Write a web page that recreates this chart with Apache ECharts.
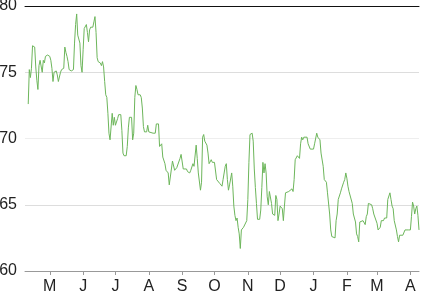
<!DOCTYPE html>
<html>
<head>
<meta charset="utf-8">
<script src="https://cdn.jsdelivr.net/npm/echarts@6/dist/echarts.min.js"></script>
<style>html,body{margin:0;padding:0;background:#fff;}#c{width:433px;height:294px;}</style>
</head>
<body>
<div id="c"></div>
<script>
const dates = [
'2013-04-11','2013-04-12','2013-04-13','2013-04-14','2013-04-15','2013-04-16','2013-04-17','2013-04-18','2013-04-19','2013-04-20',
'2013-04-21','2013-04-22','2013-04-23','2013-04-24','2013-04-25','2013-04-26','2013-04-27','2013-04-28','2013-04-29','2013-04-30',
'2013-05-01','2013-05-02','2013-05-03','2013-05-04','2013-05-05','2013-05-06','2013-05-07','2013-05-08','2013-05-09','2013-05-10',
'2013-05-11','2013-05-12','2013-05-13','2013-05-14','2013-05-15','2013-05-16','2013-05-17','2013-05-18','2013-05-19','2013-05-20',
'2013-05-21','2013-05-22','2013-05-23','2013-05-24','2013-05-25','2013-05-26','2013-05-27','2013-05-28','2013-05-29','2013-05-30',
'2013-05-31','2013-06-01','2013-06-02','2013-06-03','2013-06-04','2013-06-05','2013-06-06','2013-06-07','2013-06-08','2013-06-09',
'2013-06-10','2013-06-11','2013-06-12','2013-06-13','2013-06-14','2013-06-15','2013-06-16','2013-06-17','2013-06-18','2013-06-19',
'2013-06-20','2013-06-21','2013-06-22','2013-06-23','2013-06-24','2013-06-25','2013-06-26','2013-06-27','2013-06-28','2013-06-29',
'2013-06-30','2013-07-01','2013-07-02','2013-07-03','2013-07-04','2013-07-05','2013-07-06','2013-07-07','2013-07-08','2013-07-09',
'2013-07-10','2013-07-11','2013-07-12','2013-07-13','2013-07-14','2013-07-15','2013-07-16','2013-07-17','2013-07-18','2013-07-19',
'2013-07-20','2013-07-21','2013-07-22','2013-07-23','2013-07-24','2013-07-25','2013-07-26','2013-07-27','2013-07-28','2013-07-29',
'2013-07-30','2013-07-31','2013-08-01','2013-08-02','2013-08-05','2013-08-07','2013-08-08','2013-08-10','2013-08-11','2013-08-13',
'2013-08-14','2013-08-16','2013-08-17','2013-08-19','2013-08-20','2013-08-21','2013-08-23','2013-08-24','2013-08-25','2013-08-27',
'2013-08-28','2013-08-30','2013-08-31','2013-09-02','2013-09-03','2013-09-05','2013-09-06','2013-09-08','2013-09-09','2013-09-11',
'2013-09-12','2013-09-14','2013-09-15','2013-09-16','2013-09-18','2013-09-19','2013-09-20','2013-09-21','2013-09-22','2013-09-24',
'2013-09-25','2013-09-26','2013-09-28','2013-09-29','2013-10-01','2013-10-03','2013-10-04','2013-10-06','2013-10-08','2013-10-09',
'2013-10-11','2013-10-12','2013-10-13','2013-10-14','2013-10-15','2013-10-17','2013-10-18','2013-10-19','2013-10-20','2013-10-21',
'2013-10-22','2013-10-23','2013-10-24','2013-10-25','2013-10-26','2013-10-28','2013-10-29','2013-10-31','2013-11-01','2013-11-02',
'2013-11-03','2013-11-05','2013-11-06','2013-11-07','2013-11-08','2013-11-09','2013-11-10','2013-11-12','2013-11-13','2013-11-14',
'2013-11-15','2013-11-16','2013-11-17','2013-11-18','2013-11-19','2013-11-20','2013-11-21','2013-11-22','2013-11-23','2013-11-24',
'2013-11-26','2013-11-27','2013-11-28','2013-11-29','2013-11-30','2013-12-01','2013-12-03','2013-12-04','2013-12-05','2013-12-06',
'2013-12-07','2013-12-09','2013-12-10','2013-12-12','2013-12-13','2013-12-14','2013-12-15','2013-12-17','2013-12-18','2013-12-19',
'2013-12-20','2013-12-21','2013-12-22','2013-12-23','2013-12-24','2013-12-26','2013-12-27','2013-12-29','2013-12-30','2014-01-01',
'2014-01-02','2014-01-04','2014-01-05','2014-01-07','2014-01-08','2014-01-10','2014-01-11','2014-01-13','2014-01-14','2014-01-16',
'2014-01-17','2014-01-18','2014-01-19','2014-01-21','2014-01-22','2014-01-23','2014-01-24','2014-01-26','2014-01-27','2014-01-29',
'2014-01-30','2014-01-31','2014-02-01','2014-02-02','2014-02-03','2014-02-04','2014-02-06','2014-02-07','2014-02-09','2014-02-10',
'2014-02-11','2014-02-12','2014-02-13','2014-02-14','2014-02-16','2014-02-17','2014-02-18','2014-02-19','2014-02-20','2014-02-21',
'2014-02-22','2014-02-24','2014-02-25','2014-02-26','2014-02-27','2014-03-01','2014-03-02','2014-03-03','2014-03-04','2014-03-05',
'2014-03-07','2014-03-08','2014-03-10','2014-03-11','2014-03-13','2014-03-14','2014-03-15','2014-03-16','2014-03-17','2014-03-19',
'2014-03-20','2014-03-21','2014-03-22','2014-03-23','2014-03-25','2014-03-26','2014-03-27','2014-03-28','2014-03-30','2014-04-01',
'2014-04-02','2014-04-03','2014-04-04','2014-04-05','2014-04-06','2014-04-07','2014-04-08','2014-04-09'
];
const values = [
72.6,75.2,74.6,75.3,77.0,77.1,76.9,75.4,74.4,73.7,
75.5,75.9,75.9,75.0,75.9,75.7,76.2,76.3,76.3,76.2,
76.2,75.9,75.3,74.3,75.0,75.1,75.1,74.8,74.3,74.3,
75.0,75.2,75.3,75.3,76.9,76.5,76.2,75.8,75.2,75.1,
75.1,75.2,75.2,77.2,78.6,79.4,77.8,77.7,77.2,75.5,
75.0,76.7,78.3,78.4,78.6,78.0,77.3,78.2,78.4,78.3,
78.4,78.8,79.2,78.0,76.1,75.8,75.8,75.7,75.5,75.8,
75.4,74.3,73.3,73.1,71.9,70.4,69.9,69.9,71.9,71.0,
71.6,71.0,71.0,71.5,71.8,71.8,71.8,70.6,68.9,68.7,
68.7,68.7,69.4,70.8,71.6,71.7,71.6,69.9,70.4,73.1,
74.0,73.7,73.3,73.3,73.3,73.1,72.3,70.9,70.5,70.5,
70.5,71.0,70.5,70.4,70.4,70.4,71.1,71.1,69.4,69.6,
68.6,68.1,67.6,67.4,66.5,66.4,68.3,68.4,67.6,67.8,
67.9,68.5,68.8,67.7,67.6,67.7,67.5,67.4,67.6,68.1,
67.9,69.5,68.5,67.4,66.1,66.7,70.1,70.3,69.8,69.5,
68.9,68.1,68.4,68.2,68.2,66.9,66.9,66.6,66.4,66.9,
67.9,68.1,66.9,66.1,66.5,67.4,66.4,64.9,64.2,63.8,
64.0,63.3,62.8,61.7,63.1,63.3,63.3,63.8,65.4,68.2,
70.3,70.4,69.8,67.7,66.3,65.1,63.9,63.9,64.6,66.3,
68.2,67.4,68.1,67.4,65.6,65.0,66.0,66.0,65.1,64.3,
64.2,65.7,65.4,63.8,64.3,64.9,64.7,63.8,64.9,65.9,
65.9,66.0,66.0,66.2,66.0,66.9,68.4,68.7,68.6,68.5,
69.6,70.1,69.9,70.1,70.2,70.1,69.6,69.2,69.2,69.2,
69.6,70.4,70.1,69.9,68.9,67.9,66.9,66.7,65.9,64.3,
63.1,62.6,62.5,62.5,63.8,64.3,65.4,65.9,66.2,66.7,
66.9,67.4,67.0,66.4,66.0,65.9,65.1,64.3,63.7,62.8,
62.6,62.2,63.7,63.7,63.8,63.7,63.5,64.1,64.3,65.1,
65.1,65.0,64.7,64.3,64.2,63.6,63.1,63.0,63.3,63.8,
63.8,64.0,64.0,65.4,65.9,65.4,64.9,64.7,63.8,63.1,
62.6,62.2,62.7,62.7,62.7,62.8,63.1,63.1,63.1,63.1,
64.1,65.2,64.9,64.3,64.7,64.9,64.2,63.1
];
const yTicks = [60, 65, 70, 75, 80];
const monthLetters = ['J','F','M','A','M','J','J','A','S','O','N','D'];
const xRange = ['2013-04-08', '2014-04-09'];

const chart = echarts.init(document.getElementById('c'), null, {renderer: 'canvas'});
const font = 'Liberation Sans, Arial, Helvetica, sans-serif';
chart.setOption({
  animation: false,
  backgroundColor: '#fff',
  grid: {left: 25, right: 14, top: 6, bottom: 23, containLabel: false, outerBoundsMode: 'none'},
  xAxis: [{
    type: 'time',
    min: xRange[0],
    max: xRange[1],
    splitNumber: 12,
    minInterval: 28 * 86400000,
    maxInterval: 31 * 86400000,
    axisLine: {show: true, lineStyle: {color: '#999', width: 1}},
    axisTick: {show: true, length: 4, lineStyle: {color: '#999'}},
    splitLine: {show: false},
    axisLabel: {
      margin: 8,
      color: '#222',
      fontSize: 16,
      fontFamily: font,
      formatter: function (v) { return monthLetters[new Date(v).getMonth()]; }
    }
  }, {
    type: 'time',
    position: 'top',
    min: xRange[0],
    max: xRange[1],
    axisLine: {show: true, lineStyle: {color: '#111', width: 1}},
    axisTick: {show: false},
    axisLabel: {show: false},
    splitLine: {show: false}
  }],
  yAxis: {
    type: 'value',
    min: yTicks[0],
    max: yTicks[yTicks.length - 1],
    interval: 5,
    axisLine: {show: false},
    axisTick: {show: false},
    splitLine: {show: true, lineStyle: {color: ['#eeeeee', '#dddddd'], width: 1}},
    axisLabel: {margin: 8, color: '#222', fontSize: 16, fontFamily: font}
  },
  series: [{
    type: 'line',
    data: dates.map((d, i) => [d, values[i]]),
    showSymbol: false,
    symbol: 'none',
    lineStyle: {color: '#6db65b', width: 1},
    itemStyle: {color: '#6db65b'}
  }]
});
</script>
</body>
</html>
